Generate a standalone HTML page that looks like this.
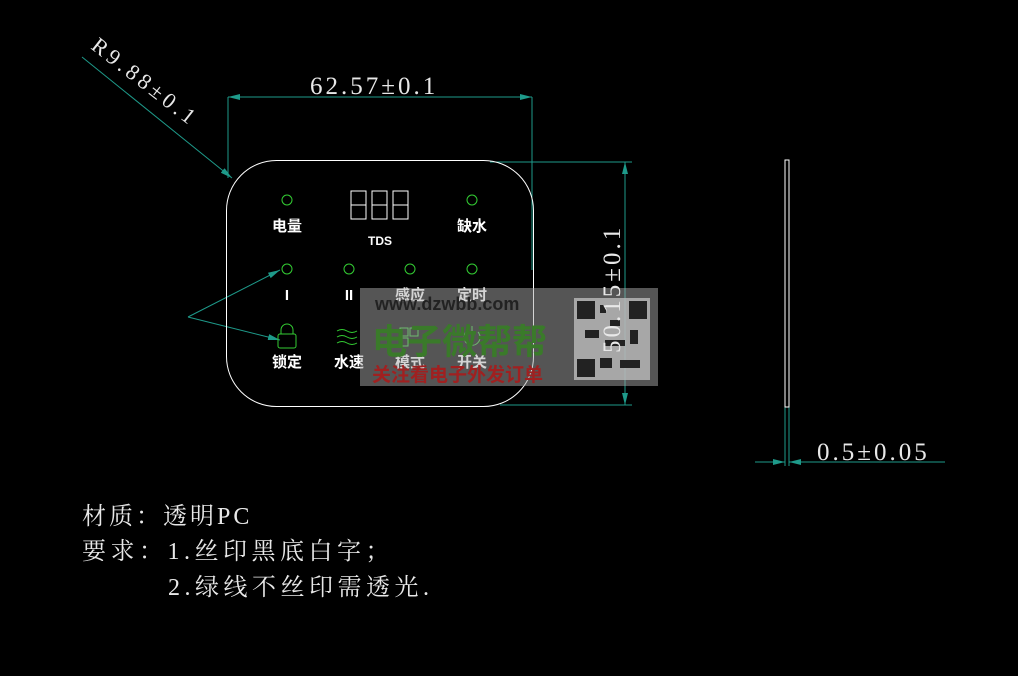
<!DOCTYPE html>
<html><head><meta charset="utf-8"><style>
body{margin:0;background:#000;width:1018px;height:676px;overflow:hidden}
svg{display:block}
.s{font-family:"Liberation Serif","Noto Serif CJK SC",serif;fill:#e8e8e8}
.c{font-family:"Liberation Sans","Noto Sans CJK SC",sans-serif;fill:#fff;font-weight:bold}
</style></head><body>
<svg width="1018" height="676" viewBox="0 0 1018 676">
<defs><marker id="a" markerWidth="12" markerHeight="6" refX="12" refY="3" orient="auto" markerUnits="userSpaceOnUse"><path d="M0,0 L12,3 L0,6z" fill="#1e9a8a"/></marker></defs>
<g stroke="#1e9a8a" stroke-width="1" fill="none">
<line x1="228" y1="97" x2="228" y2="178"/><line x1="532" y1="97" x2="532" y2="270"/>
<line x1="240" y1="97" x2="228" y2="97" marker-end="url(#a)"/><line x1="240" y1="97" x2="532" y2="97" marker-end="url(#a)"/>
<line x1="490" y1="162" x2="632" y2="162"/><line x1="500" y1="405" x2="632" y2="405"/>
<line x1="625" y1="280" x2="625" y2="162" marker-end="url(#a)"/><line x1="625" y1="280" x2="625" y2="405" marker-end="url(#a)"/>
<line x1="82" y1="57" x2="232" y2="178" marker-end="url(#a)"/>
<line x1="188" y1="317" x2="280" y2="270" marker-end="url(#a)"/><line x1="188" y1="317" x2="280" y2="340" marker-end="url(#a)"/>
<line x1="785" y1="407" x2="785" y2="466"/><line x1="789" y1="407" x2="789" y2="466"/>
<line x1="755" y1="462" x2="785" y2="462" marker-end="url(#a)"/><line x1="820" y1="462" x2="789" y2="462" marker-end="url(#a)"/><line x1="789" y1="462" x2="945" y2="462"/>
</g>
<rect x="226.5" y="160.5" width="307" height="246" rx="50" fill="none" stroke="#fff" stroke-width="1"/>
<rect x="785" y="160" width="4" height="247" fill="none" stroke="#fff" stroke-width="1"/>
<text class="s" x="310" y="94" font-size="25" letter-spacing="3">62.57±0.1</text>
<text class="s" x="0" y="0" font-size="22" letter-spacing="4" transform="translate(90,48) rotate(38)">R9.88±0.1</text>
<text class="s" x="817" y="460" font-size="25" letter-spacing="3">0.5±0.05</text>
<g fill="none" stroke="#3c3" stroke-width="1">
<circle cx="287" cy="200" r="5"/><circle cx="472" cy="200" r="5"/>
<circle cx="287" cy="269" r="5"/><circle cx="349" cy="269" r="5"/><circle cx="410" cy="269" r="5"/><circle cx="472" cy="269" r="5"/>
<rect x="278" y="334" width="18" height="14" rx="2"/><path d="M281,334 v-4 a6,6 0 0 1 12,0 v4"/>
<path d="M337,331 q5,-3 10,0 t10,0 M337,337 q5,-3 10,0 t10,0 M337,343 q5,-3 10,0 t10,0"/>
<rect x="400" y="328" width="8" height="8"/><rect x="410" y="328" width="8" height="8"/><rect x="400" y="338" width="8" height="8"/>
<path d="M466,332 a8,8 0 1 0 12,0 M472,326 v10"/>
</g>
<g fill="none" stroke="#fff" stroke-width="1"><rect x="351" y="191" width="15" height="28"/><rect x="372" y="191" width="15" height="28"/><rect x="393" y="191" width="15" height="28"/>
<line x1="351" y1="205" x2="366" y2="205"/><line x1="372" y1="205" x2="387" y2="205"/><line x1="393" y1="205" x2="408" y2="205"/></g>
<g class="c" font-size="15" text-anchor="middle">
<text x="287" y="231">电量</text><text x="472" y="231">缺水</text><text x="380" y="245" font-size="12">TDS</text>
<text x="287" y="300">I</text><text x="349" y="300">II</text><text x="410" y="300">感应</text><text x="472" y="300">定时</text>
<text x="287" y="367">锁定</text><text x="349" y="367">水速</text><text x="410" y="367">模式</text><text x="472" y="367">开关</text>
</g>
<rect x="360" y="288" width="298" height="98" fill="#aaa" opacity="0.5"/>
<text x="375" y="310" font-family="Liberation Sans,sans-serif" font-weight="bold" font-size="18" fill="#222">www.dzwbb.com</text>
<text x="372" y="354" font-family="Liberation Sans,'Noto Sans CJK SC',sans-serif" font-weight="bold" font-size="35" fill="#3a7a2a">电子微帮帮</text>
<text x="372" y="381" font-family="Liberation Sans,'Noto Sans CJK SC',sans-serif" font-weight="bold" font-size="19" fill="#a02020">关注看电子外发订单</text>
<rect x="574" y="298" width="76" height="82" fill="#bbb" opacity="0.8"/>
<g fill="#222"><rect x="577" y="301" width="18" height="18"/><rect x="629" y="301" width="18" height="18"/><rect x="577" y="359" width="18" height="18"/>
<rect x="600" y="305" width="6" height="8"/><rect x="610" y="320" width="10" height="6"/><rect x="585" y="330" width="14" height="8"/><rect x="605" y="340" width="20" height="6"/><rect x="630" y="330" width="8" height="14"/><rect x="600" y="358" width="12" height="10"/><rect x="620" y="360" width="20" height="8"/></g>
<text class="s" x="0" y="0" font-size="25" letter-spacing="3" transform="translate(620,353) rotate(-90)">50.15±0.1</text>
<text class="s" x="82" y="524" font-size="24" letter-spacing="3">材质：透明PC</text>
<text class="s" x="82" y="559" font-size="24" letter-spacing="4.5">要求：1.丝印黑底白字；</text>
<text class="s" x="168" y="595" font-size="24" letter-spacing="4.5">2.绿线不丝印需透光.</text>
</svg>
</body></html>
